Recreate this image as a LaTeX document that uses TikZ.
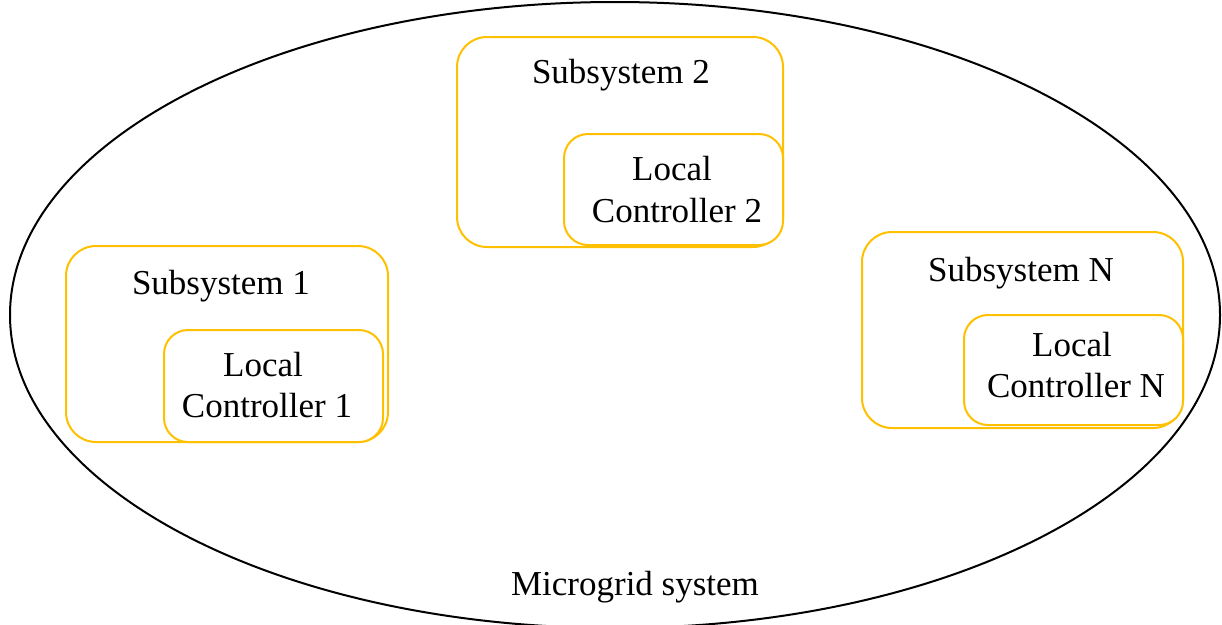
\documentclass[tikz,border=0pt]{standalone}
\usepackage{fontspec}
\setmainfont{Liberation Serif}
\usetikzlibrary{shapes.geometric}
\definecolor{gold}{HTML}{FFC000}
\begin{document}
\begin{tikzpicture}[x=1pt,y=-1pt,
  outerbox/.style={draw=gold, line width=2pt, rounded corners=30pt, anchor=north west, inner sep=0pt},
  innerbox/.style={draw=gold, line width=2pt, rounded corners=24pt, anchor=north west, inner sep=0pt, fill=white},
  lbl/.style={anchor=base, inner sep=0pt, font=\fontsize{35}{42}\selectfont}]
\useasboundingbox (0,0) rectangle (1222,624);
\begin{scope}
\clip (0,0) rectangle (1222,624);
\node[draw=black, line width=2pt, ellipse, minimum width=1210pt, minimum height=626pt, inner sep=0pt] (mg) at (615,315) {};
\end{scope}
% Subsystem 2
\node[outerbox, minimum width=326pt, minimum height=210pt] (s2) at (456,36) {};
\node[innerbox, minimum width=219pt, minimum height=111pt] (c2) at (563,133) {};
\node[lbl] (s2t) at (621,83) {Subsystem 2};
\node[lbl] (c2a) at (672,180) {Local};
\node[lbl] (c2b) at (677,222) {Controller 2};
% Subsystem 1
\node[outerbox, minimum width=322pt, minimum height=196pt] (s1) at (65,245) {};
\node[innerbox, minimum width=219pt, minimum height=112pt] (c1) at (163,329) {};
\node[lbl] (s1t) at (221,294) {Subsystem 1};
\node[lbl] (c1a) at (263,376) {Local};
\node[lbl] (c1b) at (267,417) {Controller 1};
% Subsystem N
\node[outerbox, minimum width=321pt, minimum height=196pt] (sn) at (861,231) {};
\node[innerbox, minimum width=219pt, minimum height=110pt] (cn) at (963,314) {};
\node[lbl] (snt) at (1021,281) {Subsystem N};
\node[lbl] (cna) at (1072,356) {Local};
\node[lbl] (cnb) at (1076,397) {Controller N};
% Label
\node[lbl] (mgt) at (635,595) {Microgrid system};
\end{tikzpicture}
\end{document}
